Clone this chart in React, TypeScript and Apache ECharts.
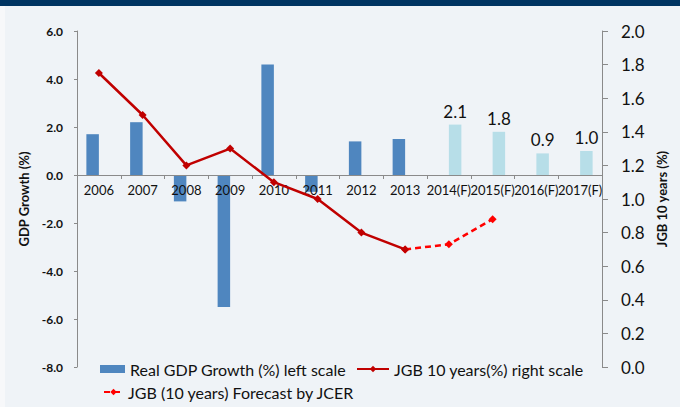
import React, { useEffect, useRef } from "react";
import * as echarts from "echarts";

const categories = ["2006", "2007", "2008", "2009", "2010", "2011", "2012", "2013", "2014(F)", "2015(F)", "2016(F)", "2017(F)"];
const gdpActual = [1.7, 2.2, -1.1, -5.5, 4.6, -0.7, 1.4, 1.5, null, null, null, null];
const gdpForecast = [null, null, null, null, null, null, null, null, 2.1, 1.8, 0.9, 1.0];
const jgbActual = [1.75, 1.5, 1.2, 1.3, 1.1, 1.0, 0.8, 0.7, null, null, null, null];
const jgbForecast = [null, null, null, null, null, null, null, 0.7, 0.73, 0.88, null, null];

const NAME_GDP = "Real GDP Growth (%) left scale";
const NAME_JGB = "JGB 10 years(%) right scale";
const NAME_JGBF = "JGB (10 years) Forecast by JCER";
const FONT = "Lato, 'Open Sans', sans-serif";

const GDP_MIN = -8;
const GDP_MAX = 6;

export default function App() {
  const ref = useRef<HTMLDivElement>(null);
  useEffect(() => {
    if (!ref.current) return;
    const chart = echarts.init(ref.current, null, { renderer: "svg" });
    const legendText = { fontSize: 16, color: "#111", fontFamily: FONT };
    const gridTop = 31;
    const gridBottom = 40;
    const gridHeight = 407 - gridTop - gridBottom;
    const zeroOffset = -(gridHeight * (0 - GDP_MIN)) / (GDP_MAX - GDP_MIN);
    chart.setOption({
      animation: false,
      backgroundColor: "#EFF3F7",
      textStyle: { fontFamily: FONT },
      graphic: [
        { type: "rect", left: 0, top: 0, shape: { width: 680, height: 6 }, style: { fill: "#003462" } },
        { type: "rect", left: 0, top: 6, shape: { width: 5, height: 401 }, style: { fill: "#F7F8FA" } },
      ],
      grid: { left: 77, right: 78, top: gridTop, bottom: gridBottom, containLabel: false },
      legend: [
        { data: [NAME_GDP], left: 100, top: 361, itemWidth: 25, itemHeight: 8, icon: "rect", textStyle: legendText, padding: 0 },
        { data: [NAME_JGB], left: 356, top: 361, itemWidth: 32, itemHeight: 8, textStyle: legendText, padding: 0 },
        { data: [NAME_JGBF], left: 103, top: 384, itemWidth: 19, itemHeight: 8, textStyle: legendText, padding: 0 },
      ],
      xAxis: {
        type: "category",
        data: categories,
        position: "bottom",
        offset: zeroOffset,
        z: 3,
        axisLine: { onZero: false, lineStyle: { color: "#8a8a8a", width: 1 } },
        axisTick: { show: true, length: 4, lineStyle: { color: "#8a8a8a" } },
        axisLabel: { interval: 0, fontSize: 13, color: "#111", margin: 8, fontFamily: FONT },
      },
      yAxis: [
        {
          type: "value",
          min: GDP_MIN,
          max: GDP_MAX,
          interval: 2,
          name: "GDP Growth (%)",
          nameLocation: "middle",
          nameGap: 42,
          nameTextStyle: { fontSize: 13, fontWeight: "bold", color: "#111", fontFamily: FONT },
          axisLine: { show: true, lineStyle: { color: "#8a8a8a" } },
          axisTick: { show: true, length: 3, lineStyle: { color: "#8a8a8a" } },
          splitLine: { show: false },
          axisLabel: { fontSize: 12, color: "#111", fontWeight: "bold", margin: 14, formatter: (v: number) => v.toFixed(1), fontFamily: FONT },
        },
        {
          type: "value",
          min: 0,
          max: 2,
          interval: 0.2,
          position: "right",
          name: "JGB 10 years (%)",
          nameLocation: "middle",
          nameRotate: 90,
          nameGap: 53,
          nameTextStyle: { fontSize: 13, fontWeight: "bold", color: "#111", fontFamily: FONT },
          axisLine: { show: true, lineStyle: { color: "#8a8a8a" } },
          axisTick: { show: true, length: 6, lineStyle: { color: "#8a8a8a" } },
          splitLine: { show: false },
          axisLabel: { fontSize: 17, color: "#111", margin: 19, formatter: (v: number) => v.toFixed(1), fontFamily: FONT },
        },
      ],
      series: [
        {
          name: NAME_GDP,
          type: "bar",
          data: gdpActual,
          barWidth: 12.5,
          barGap: "0%",
          itemStyle: { color: "#4F86BF" },
        },
        {
          name: "GDP Forecast",
          type: "bar",
          data: gdpForecast,
          barWidth: 12.5,
          barGap: "0%",
          itemStyle: { color: "#B7DEE8" },
          label: { show: true, position: "top", distance: 5, fontSize: 17, color: "#111", formatter: (p: any) => Number(p.value).toFixed(1), fontFamily: FONT },
        },
        {
          name: NAME_JGB,
          type: "line",
          yAxisIndex: 1,
          data: jgbActual,
          symbol: "diamond",
          symbolSize: 8,
          lineStyle: { color: "#C00000", width: 2.5 },
          itemStyle: { color: "#C00000" },
          z: 5,
        },
        {
          name: NAME_JGBF,
          type: "line",
          yAxisIndex: 1,
          data: jgbForecast,
          symbol: "diamond",
          symbolSize: 8,
          lineStyle: { color: "#FF0000", width: 2.5, type: [6, 4] },
          itemStyle: { color: "#FF0000" },
          z: 4,
        },
      ],
    });
    return () => chart.dispose();
  }, []);
  return <div ref={ref} style={{ position: "fixed", left: 0, top: 0, width: 680, height: 407 }} />;
}
